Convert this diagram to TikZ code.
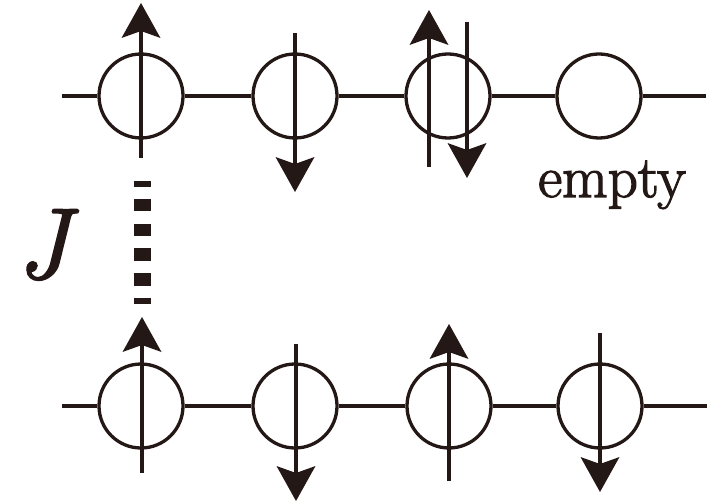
\documentclass[tikz,border=0pt]{standalone}
\usepackage{fontspec}
\newfontfamily\heavyfont[FakeBold=2.2]{Latin Modern Roman}
\usetikzlibrary{arrows.meta,calc}
\definecolor{ink}{RGB}{35,24,21}
\begin{document}
\begin{tikzpicture}[x=1pt,y=-1pt,
  site/.style={circle,draw=ink,line width=3.3pt,minimum size=84pt,inner sep=0pt,fill=white},
  bond/.style={draw=ink,line width=3.3pt},
  spin/.style={draw=ink,line width=3.3pt,-{Stealth[length=35pt,width=39pt,inset=7pt,line width=0pt]}},
  coupling/.style={draw=ink,line width=17pt,dash pattern=on 12.5pt off 12.2pt,dash phase=6.7pt}]
\useasboundingbox (0,0) rectangle (708,502);
% top chain
\coordinate (tl) at (62,96);
\coordinate (tr) at (706,96);
\node[site] (t1) at (141,96) {};
\node[site] (t2) at (295,96) {};
\node[site] (t3) at (448,96) {};
\node[site] (t4) at (599,96) {};
\draw[bond] (tl) -- (t1) -- (t2) -- (t3) -- (t4) -- (tr);
% bottom chain
\coordinate (bl) at (62,406);
\coordinate (br) at (707,406);
\node[site] (b1) at (141,406) {};
\node[site] (b2) at (295,406) {};
\node[site] (b3) at (449,406) {};
\node[site] (b4) at (600,406) {};
\draw[bond] (bl) -- (b1) -- (b2) -- (b3) -- (b4) -- (br);
% spins top
\draw[spin] ($(t1)+(0,62)$) -- ($(t1)+(0,-93)$);
\draw[spin] ($(t2)+(0,-63)$) -- ($(t2)+(0,96)$);
\draw[spin] ($(t3)+(-19,71)$) -- ($(t3)+(-19,-86)$);
\draw[spin] ($(t3)+(19,-74)$) -- ($(t3)+(19,82)$);
% spins bottom
\draw[spin] ($(b1)+(1,67)$) -- ($(b1)+(1,-89)$);
\draw[spin] ($(b2)+(1,-62)$) -- ($(b2)+(1,95)$);
\draw[spin] ($(b3)+(0,75)$) -- ($(b3)+(0,-82)$);
\draw[spin] ($(b4)+(0,-73)$) -- ($(b4)+(0,86)$);
% coupling
\coordinate (jtop) at (142,181);
\coordinate (jbot) at (142,304);
\draw[coupling] (jtop) -- (jbot);
% labels
\node[anchor=base,text=ink,inner sep=0pt,font=\heavyfont\fontsize{59}{62}\selectfont] (empty) at (612,197) {empty};
\node[anchor=base,text=ink,inner sep=0pt,font=\heavyfont\fontsize{100}{104}\selectfont\itshape] (J) at (43,278) {J};
\end{tikzpicture}
\end{document}
